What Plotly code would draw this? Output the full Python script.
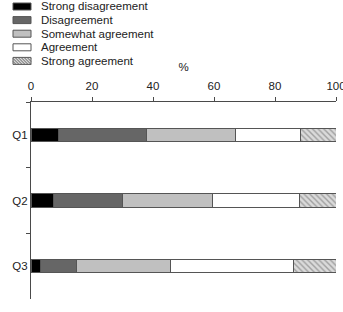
import plotly.graph_objects as go

questions = ["Q1", "Q2", "Q3"]
categories = ["Strong disagreement", "Disagreement", "Somewhat agreement", "Agreement", "Strong agreement"]
strong_disagreement = [9.0, 7.3, 3.2]
disagreement = [29.0, 22.8, 11.8]
somewhat_agreement = [29.0, 29.3, 30.8]
agreement = [21.2, 28.5, 40.2]
strong_agreement = [11.8, 12.1, 14.0]
x_ticks = [0, 20, 40, 60, 80, 100]

series = [strong_disagreement, disagreement, somewhat_agreement, agreement, strong_agreement]
fills = ["#000000", "#666666", "#c0c0c0", "#ffffff", "#d8d8d8"]
edge = "#555555"
axis_col = "#4a4a4a"
hatch_col = "#666666"
font_family = "Liberation Sans, Arial, sans-serif"

W, H = 343, 312
L, R, T, B = 31, 7, 102, 13
pw, ph = W - L - R, H - T - B

fig = go.Figure()
for name, vals, col in zip(categories, series, fills):
    marker = dict(color=col, line=dict(color=edge, width=1))
    if name == "Strong agreement":
        marker["pattern"] = dict(shape="\\", fgcolor=hatch_col, bgcolor="#dadada", size=4, solidity=0.35)
    fig.add_trace(go.Bar(y=questions, x=vals, name=name, orientation="h",
                         marker=marker, width=0.2, showlegend=False))

def px2paper(x, y):
    return (x - L) / pw, (H - B - y) / ph

shapes = []
annotations = []
row0, dy = 6.5, 13.6
for i, (name, col) in enumerate(zip(categories, fills)):
    yc = row0 + i * dy
    x0, y0 = px2paper(13, yc - 3.5)
    x1, y1 = px2paper(31, yc + 3.5)
    shapes.append(dict(type="rect", xref="paper", yref="paper", x0=x0, x1=x1, y0=y1, y1=y0,
                       fillcolor=col, line=dict(color=edge, width=1), layer="above"))
    if name == "Strong agreement":
        top, bot = yc - 3.5, yc + 3.5
        hgt = bot - top
        k = 13 - hgt
        while k < 31:
            xa, ya = k, top
            xb, yb = k + hgt, bot
            if xa < 13:
                ya = top + (13 - xa); xa = 13
            if xb > 31:
                yb = bot - (xb - 31); xb = 31
            if xb > xa:
                p0 = px2paper(xa, ya); p1 = px2paper(xb, yb)
                shapes.append(dict(type="line", xref="paper", yref="paper",
                                   x0=p0[0], y0=p0[1], x1=p1[0], y1=p1[1],
                                   line=dict(color=hatch_col, width=1), layer="above"))
            k += 3
    tx, ty = px2paper(39, yc)
    annotations.append(dict(text=name, xref="paper", yref="paper", x=tx, y=ty,
                            xanchor="left", yanchor="middle", showarrow=False,
                            font=dict(size=11.5, color="#222222", family=font_family)))

fig.update_layout(
    width=W, height=H, barmode="stack",
    margin=dict(l=L, r=R, t=T, b=B, autoexpand=False),
    paper_bgcolor="white", plot_bgcolor="white",
    font=dict(family=font_family, size=11.5, color="#222222"),
    shapes=shapes, annotations=annotations,
)
fig.update_xaxes(side="top", range=[0, 100], tickvals=x_ticks, ticks="outside", ticklen=4,
                 tickwidth=1, tickcolor=axis_col, showline=True, linecolor=axis_col, linewidth=1,
                 showgrid=False, zeroline=False, ticklabeloverflow="allow", ticklabelstandoff=2,
                 automargin=False,
                 title=dict(text="%", standoff=6, font=dict(size=11.5)), tickfont=dict(size=11.5))
fig.update_yaxes(type="category", categoryarray=questions, range=[2.5, -0.5],
                 tickson="boundaries", ticks="outside", ticklen=4, tickwidth=1, tickcolor=axis_col,
                 showline=True, linecolor=axis_col, linewidth=1, showgrid=False, automargin=False,
                 zeroline=False, tickfont=dict(size=11.5))

fig.write_html("out.html")
